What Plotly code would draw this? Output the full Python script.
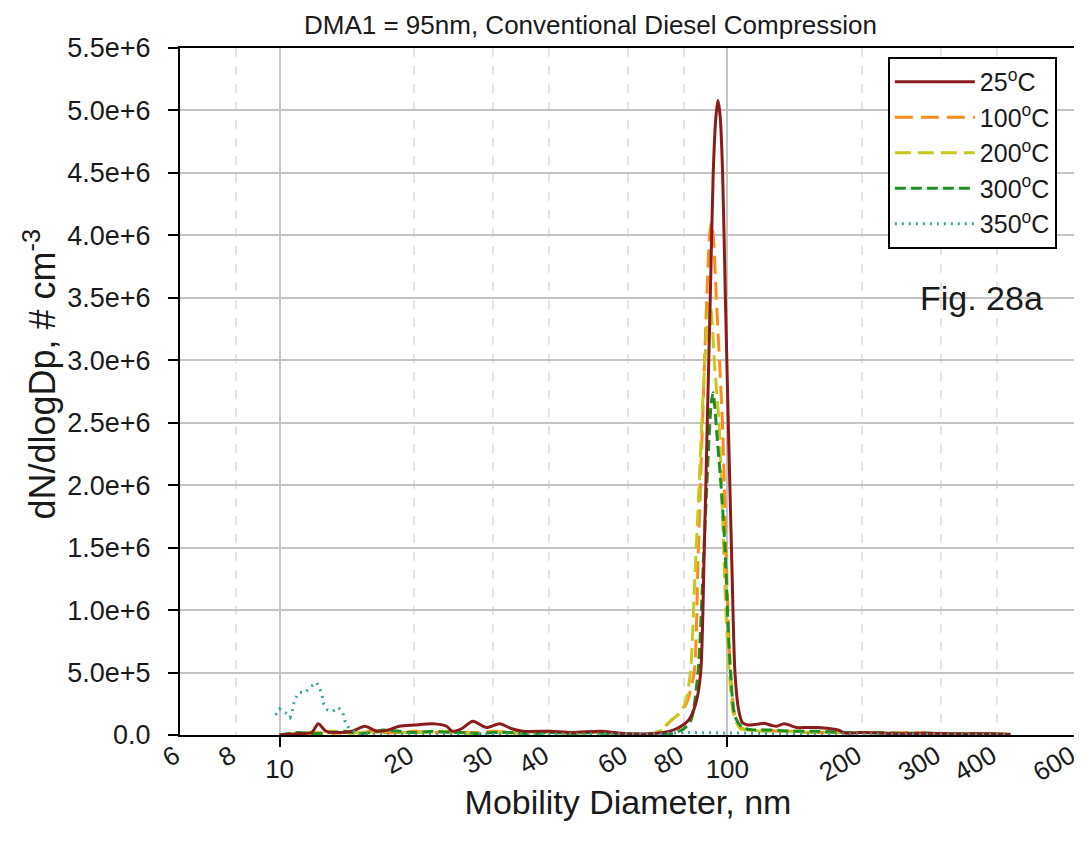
import plotly.graph_objects as go

# dN/dlogDp values in units of 1e6 # cm^-3, diameters in nm
DP_25 = [10, 11, 11.8, 12.2, 12.7, 13.5, 14.5, 15.5, 16.5, 17.5, 18.5, 20, 22, 23.6, 24.3, 25.5, 27, 29, 31, 33,
         35, 40, 45, 52, 56, 60, 66, 72, 77, 82, 85, 87.2, 88.7, 90.2, 91.6, 93.0, 94.3, 95.3, 96.4, 97.6,
         99.0, 100.5, 102.3, 104, 106, 108, 111, 116, 121, 126, 129, 134, 143, 150, 160, 170, 177, 183, 200,
         240, 280, 330, 380, 430]
N_25 = [0.0, 0.01, 0.02, 0.09, 0.03, 0.02, 0.03, 0.07, 0.03, 0.04, 0.07, 0.08, 0.09, 0.07, 0.03, 0.05, 0.11,
        0.06, 0.09, 0.05, 0.03, 0.03, 0.02, 0.03, 0.02, 0.01, 0.01, 0.02, 0.05, 0.12, 0.25, 0.5, 1.4, 2.5,
        3.5, 4.5, 4.95, 5.08, 4.95, 4.5, 3.5, 2.5, 1.4, 0.5, 0.2, 0.1, 0.08, 0.085, 0.094, 0.075, 0.07, 0.09,
        0.06, 0.06, 0.06, 0.05, 0.04, 0.015, 0.02, 0.01, 0.015, 0.008, 0.01, 0.005]

DP_100 = [10, 11, 12, 13, 14, 15, 16, 17, 18.5, 20, 22, 24, 26, 28, 30, 33, 36, 40, 44, 48, 52, 56, 60, 65,
          70, 74, 78, 81, 84.3, 86, 88, 90, 91.3, 92.2, 93.2, 94.5, 97.5, 99.5, 101.6, 104, 107, 112, 120, 130,
          145, 160, 180, 200, 230, 260, 300, 350, 400, 430]
N_100 = [0.0, 0.01, 0.02, 0.01, 0.02, 0.01, 0.03, 0.02, 0.02, 0.03, 0.02, 0.03, 0.02, 0.02, 0.03, 0.02, 0.02,
         0.03, 0.01, 0.02, 0.02, 0.01, 0.01, 0.005, 0.02, 0.1, 0.17, 0.25, 0.5, 1.4, 2.5, 3.5, 4.0, 4.1, 3.95,
         3.5, 2.5, 1.4, 0.5, 0.15, 0.06, 0.04, 0.04, 0.03, 0.03, 0.02, 0.02, 0.02, 0.015, 0.02, 0.01, 0.01,
         0.01, 0.005]

DP_200 = [10, 11, 12, 13, 14, 15, 16, 17.5, 19, 21, 23, 25, 27, 29, 32, 35, 38, 42, 46, 50, 55, 60, 65, 68,
          72, 75, 78, 80.5, 82.7, 84.5, 86.5, 88.5, 90.5, 91.5, 92.5, 93.5, 95.8, 97.1, 99, 101, 103.5, 107,
          112, 120, 135, 150, 170, 200, 240, 280, 320, 380, 430]
N_200 = [0.0, 0.01, 0.02, 0.03, 0.01, 0.02, 0.02, 0.03, 0.02, 0.02, 0.03, 0.02, 0.01, 0.02, 0.02, 0.01, 0.02,
         0.02, 0.01, 0.02, 0.01, 0.01, 0.005, 0.01, 0.05, 0.12, 0.17, 0.25, 0.5, 1.2, 2.0, 2.8, 3.35, 3.46,
         3.3, 3.0, 2.5, 2.0, 1.1, 0.5, 0.15, 0.05, 0.04, 0.03, 0.03, 0.02, 0.02, 0.02, 0.015, 0.01, 0.01,
         0.01, 0.005]

DP_300 = [10, 11, 12, 13, 14, 15, 16, 17, 18.5, 20, 22, 24, 26, 28, 30, 33, 36, 40, 45, 50, 55, 60, 65, 70,
          75, 80, 83, 86, 88.7, 90.8, 92.0, 92.9, 93.8, 94.8, 96.8, 98.8, 100.3, 101.7, 104, 108, 115, 125,
          140, 160, 180, 200, 240, 280, 330, 380, 430]
N_300 = [0.0, 0.02, 0.01, 0.02, 0.03, 0.01, 0.02, 0.04, 0.03, 0.02, 0.03, 0.02, 0.02, 0.01, 0.02, 0.02, 0.01,
         0.02, 0.01, 0.02, 0.01, 0.01, 0.005, 0.005, 0.01, 0.05, 0.12, 0.5, 1.5, 2.3, 2.65, 2.74, 2.62, 2.4,
         2.0, 1.5, 0.9, 0.5, 0.15, 0.06, 0.04, 0.04, 0.03, 0.03, 0.02, 0.02, 0.015, 0.015, 0.01, 0.01, 0.005]

DP_350 = [9.8, 10.0, 10.3, 10.56, 10.67, 10.8, 11.04, 11.4, 11.77, 12.1, 12.3, 12.45, 12.5, 12.8, 13.15, 13.55,
          13.9, 14.0, 14.3, 15, 17, 20, 25, 30, 40, 50, 60, 70, 80, 90, 100, 110, 130, 160, 200, 260, 330, 430]
N_350 = [0.16, 0.21, 0.18, 0.14, 0.19, 0.28, 0.34, 0.34, 0.39, 0.42, 0.37, 0.32, 0.26, 0.20, 0.19, 0.22, 0.16,
         0.11, 0.05, 0.01, 0.005, 0.005, 0.005, 0.005, 0.005, 0.005, 0.005, 0.01, 0.02, 0.02, 0.02, 0.015,
         0.01, 0.01, 0.005, 0.005, 0.005, 0.003]

Y_TICKS = [0, 0.5, 1.0, 1.5, 2.0, 2.5, 3.0, 3.5, 4.0, 4.5, 5.0, 5.5]
Y_TICKTEXT = ["0.0", "5.0e+5", "1.0e+6", "1.5e+6", "2.0e+6", "2.5e+6", "3.0e+6", "3.5e+6",
              "4.0e+6", "4.5e+6", "5.0e+6", "5.5e+6"]
X_MAJOR = [10, 100]
X_MINOR = [6, 8, 20, 30, 40, 60, 80, 200, 300, 400, 600]

FONT = "Liberation Sans, Arial, sans-serif"
TXT = "#1a1a1a"

series = [
    ("100", DP_100, N_100, "#ff8c1a", "18px,8px", 2, "x"),
    ("200", DP_200, N_200, "#c8c81e", "16px,7px", 3, "x"),
    ("300", DP_300, N_300, "#1f901f", "11px,5px", 4, "x"),
    ("25", DP_25, N_25, "#8b1c1c", "solid", 1, "x"),
    ("350", DP_350, N_350, "#3aa4a4", "2px,5px", 5, "x2"),
]

fig = go.Figure()
for name, xs, ys, color, dash, rank, xa in series:
    fig.add_trace(go.Scatter(
        x=xs, y=[v * 1e6 for v in ys],
        mode="lines",
        name=f"{name}<sup>o</sup>C",
        line=dict(color=color, width=3, dash=dash,
                  shape="linear" if name == "350" else "spline", smoothing=0.7),
        legendrank=rank, legendgroup=name,
        xaxis=xa, yaxis="y",
    ))

# page body has an 8px margin, so the figure is offset by 8px in the window
xr = [0.7776, 2.7787]
fig.update_layout(
    width=1074, height=826,
    margin=dict(l=172, r=6, t=40, b=99),
    paper_bgcolor="white", plot_bgcolor="white",
    font=dict(family=FONT, color=TXT),
    xaxis=dict(
        type="log", range=xr, automargin=False,
        tickvals=X_MAJOR, ticktext=[str(v) for v in X_MAJOR], tickangle=0,
        tickfont=dict(size=26),
        ticks="outside", ticklen=10, tickwidth=2, tickcolor="black",
        showline=True, linecolor="black", linewidth=2, mirror=True,
        showgrid=True, gridcolor="#c4c4c4", gridwidth=2,
        minor=dict(tickvals=X_MINOR, showgrid=True, gridcolor="#e4e4e4",
                   griddash="dash", gridwidth=1.5, ticks=""),
        zeroline=False,
    ),
    xaxis2=dict(
        type="log", range=xr, overlaying="x", side="bottom", automargin=False,
        tickvals=X_MINOR, ticktext=[str(v) for v in X_MINOR], tickangle=-30,
        tickfont=dict(size=26), ticks="", showgrid=False, showline=False, zeroline=False,
        ticklabeloverflow="allow", ticklabelshift=-5,
        title=dict(text="Mobility Diameter, nm", font=dict(size=34), standoff=4),
    ),
    yaxis=dict(
        range=[0, 5.5e6], automargin=False,
        tickvals=[v * 1e6 for v in Y_TICKS], ticktext=Y_TICKTEXT,
        tickfont=dict(size=27), ticklabelstandoff=12,
        ticks="outside", ticklen=10, tickwidth=2, tickcolor="black",
        showline=True, linecolor="black", linewidth=2, mirror=True,
        showgrid=True, gridcolor="#c4c4c4", gridwidth=2, zeroline=False,
    ),
    legend=dict(
        x=0.79, y=0.987, xanchor="left", yanchor="top",
        bgcolor="white", bordercolor="black", borderwidth=2,
        font=dict(size=25, color=TXT),
        itemwidth=80, traceorder="grouped", tracegroupgap=0,
    ),
    annotations=[
        dict(text="DMA1 = 95nm, Conventional Diesel Compression", xref="paper", yref="paper",
             x=0.4576, y=1.034, xanchor="center", yanchor="middle", showarrow=False,
             font=dict(size=26)),
        dict(text="dN/dlogDp, # cm<sup>-3</sup>", xref="paper", yref="paper",
             x=-0.156, y=0.525, xanchor="center", yanchor="middle", textangle=-90,
             showarrow=False, font=dict(size=36)),
        dict(text="Fig. 28a", xref="paper", yref="y", x=0.894, y=3.5e6,
             xanchor="center", yanchor="middle", showarrow=False, font=dict(size=34)),
    ],
)

fig.write_html("out.html")
